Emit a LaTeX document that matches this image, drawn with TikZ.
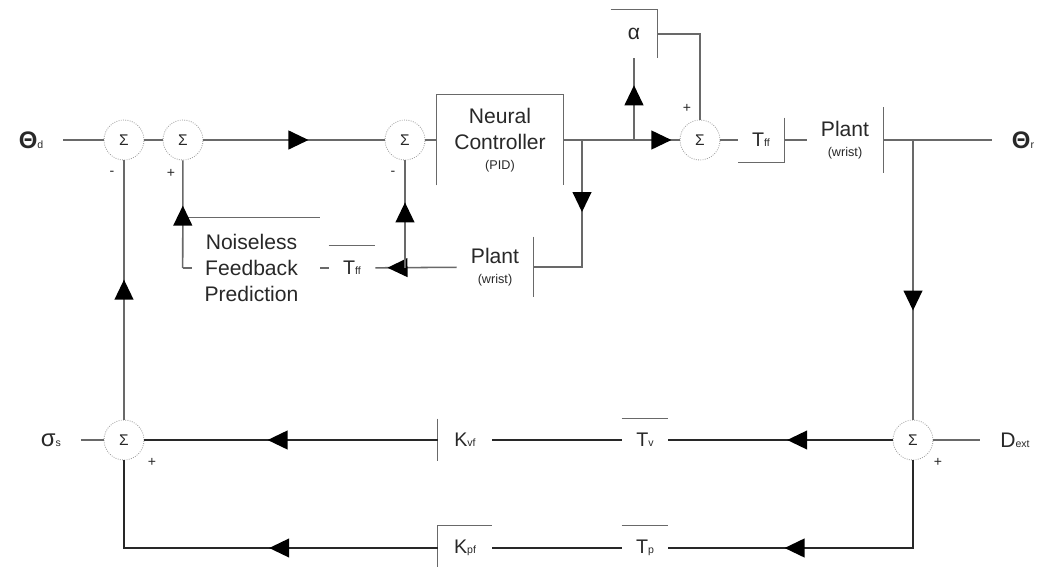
\documentclass[tikz,border=0pt]{standalone}
\usepackage{fontspec}
\setmainfont{Liberation Sans}
\usepackage{xcolor}
\usepackage{tikz}
\usetikzlibrary{positioning, arrows.meta, calc, decorations.markings}
\definecolor{wiregrey}{RGB}{105,105,105}
\definecolor{wiredark}{RGB}{40,40,40}
\definecolor{ringgrey}{RGB}{155,155,155}
\definecolor{ink}{RGB}{40,40,40}
\newcommand{\lo}[1]{{\fontsize{7.5}{7.5}\selectfont #1}}

\begin{document}
\begin{tikzpicture}[x=0.025cm, y=-0.025cm,
    wire/.style={draw=wiregrey, line width=1.1pt},
    wirek/.style={wire, draw=wiredark, line width=1.2pt},
    rim/.style={draw=wiregrey, line width=0.9pt},
    midarrow/.style={postaction={decorate}, decoration={markings,
        mark=at position #1 with {\arrow{Triangle[length=0.5cm, width=0.47cm, color=black]}}}},
    sum/.style={circle, draw=ringgrey, densely dotted, line width=0.6pt, minimum size=1cm,
                inner sep=0pt, font=\fontsize{11}{11}\selectfont, text=ink},
    blk/.style={inner sep=0pt, align=center, text=ink, font=\fontsize{15}{18.5}\selectfont},
    gain/.style={blk, font=\fontsize{14}{16}\selectfont},
    io/.style={text=ink, font=\fontsize{17}{17}\selectfont, inner xsep=14pt, inner ysep=1pt},
    sgn/.style={text=ink, font=\fontsize{10}{10}\selectfont, inner sep=0pt}
  ]
  \useasboundingbox (0,0) rectangle (1042,567);

  \foreach \n/\x/\y in {s1/124/140, s2/183/140, s3/405/140, s4/700/140, s5/913/440, s6/124/440}
    { \node[sum] (\n) at (\x,\y) {Σ}; }

  \node[io] (thd) at (31,140) {\textbf{Θ}\lo{d}};
  \node[io] (thr) at (1023,140) {\textbf{Θ}\lo{r}};
  \node[io] (ss) at (51,440) {σ\lo{s}};
  \node[io, font=\fontsize{15}{15}\selectfont] (dext) at (1015,440) {D\lo{ext}};

  \node[blk, minimum width=3.15cm, minimum height=2.25cm] (nc) at (500,140)
       {Neural\\Controller\\[-4pt]{\fontsize{9}{10}\selectfont (PID)}};
  \node[blk, minimum width=1.15cm, minimum height=1.2cm] (al) at (634,34) {α};
  \node[gain, minimum width=1.15cm, minimum height=1.1cm] (tf1) at (761,140) {T\lo{ff}};
  \node[blk, minimum width=1.9cm, minimum height=1.625cm] (pl1) at (845,140)
       {Plant\\[-4pt]{\fontsize{9}{10}\selectfont (wrist)}};
  \node[blk, minimum width=1.9cm, minimum height=1.5cm] (pl2) at (495,267)
       {Plant\\[-4pt]{\fontsize{9}{10}\selectfont (wrist)}};
  \node[gain, minimum width=1.15cm, minimum height=1.1cm] (tf2) at (352,268) {T\lo{ff}};
  \node[blk, minimum width=3.425cm, minimum height=2.5cm] (nfp) at (251.5,268)
       {Noiseless\\Feedback\\Prediction};
  \node[gain, minimum width=1.15cm, minimum height=1.05cm] (tv) at (645,440) {T\lo{v}};
  \node[gain, minimum width=1.35cm, minimum height=1.05cm] (kv) at (465,440) {K\lo{vf}};
  \node[gain, minimum width=1.15cm, minimum height=1.1cm] (tp) at (645,548) {T\lo{p}};
  \node[gain, minimum width=1.35cm, minimum height=1.1cm] (kp) at (465,548) {K\lo{pf}};

  \coordinate (j1) at (582,140);
  \coordinate (j2) at (634,140);
  \coordinate (j3) at (405,268);
  \coordinate (j4) at (913,140);

  \draw[rim] (nc.south west) |- (nc.north east) -- (nc.south east);
  \draw[rim] (al.north west) -- (al.north east) -- (al.south east);
  \draw[rim] (tf1.north east) -- (tf1.south east) -- (tf1.south west);
  \foreach \b in {pl1, pl2} { \draw[rim] (\b.north east) -- (\b.south east); }
  \foreach \b in {tf2, tv, tp} { \draw[rim] (\b.north west) -- (\b.north east); }
  \draw[rim] (kv.north west) -- (kv.south west);
  \draw[rim] (kp.south west) |- (kp.north east);
  \draw[rim] (nfp.north west) -- (nfp.north east);
  \draw[rim] (nfp.west) -- ++(9,0);

  \draw[wire] (thd) -- (s1);
  \draw[wire] (s1) -- (s2);
  \draw[wire, midarrow=0.58] (s2) -- (s3);
  \draw[wire] (s3) -- (nc);
  \draw[wire, midarrow=0.93] (nc) -- (j1) -- (j2) -- (s4);
  \draw[wire, midarrow=0.67] (j2) -- (al);
  \draw[wire] (al.east) -| (s4.north);
  \draw[wire] (s4) -- (tf1);
  \draw[wire] (tf1) -- (pl1);
  \draw[wire] (pl1) -- (thr);
  \draw[wire, midarrow=0.41] (j1) |- (pl2);
  \draw[wire, midarrow=0.85] (pl2) -- (tf2);
  \draw[wire, midarrow=0.61] (j3) -- (s3);
  \draw[wire] (tf2) -- (nfp);
  \draw[wire, midarrow=0.58] (nfp.west) -- (s2);
  \draw[wire, midarrow=0.54] (s6) -- (s1);

  \draw[wire, midarrow=0.61] (j4) -- (s5);
  \draw[wire] (s5) -- (dext);
  \draw[wire] (ss) -- (s6);
  \draw[wirek, midarrow=0.47] (s5) -- (tv);
  \draw[wirek] (tv) -- (kv);
  \draw[wirek, midarrow=0.58] (kv) -- (s6);
  \draw[wirek, midarrow=0.65] (s5) |- (tp);
  \draw[wirek] (tp) -- (kp);
  \draw[wirek, midarrow=0.42] (kp) -| (s6);

  \node[sgn] at ($(s1)+(-12,33)$) {-};
  \node[sgn] at ($(s2)+(-12,33)$) {+};
  \node[sgn] at ($(s3)+(-12,33)$) {-};
  \node[sgn] at ($(s4)+(-13,-32)$) {+};
  \node[sgn] at ($(s6)+(28,22)$) {+};
  \node[sgn] at ($(s5)+(25,22)$) {+};
\end{tikzpicture}
\end{document}
